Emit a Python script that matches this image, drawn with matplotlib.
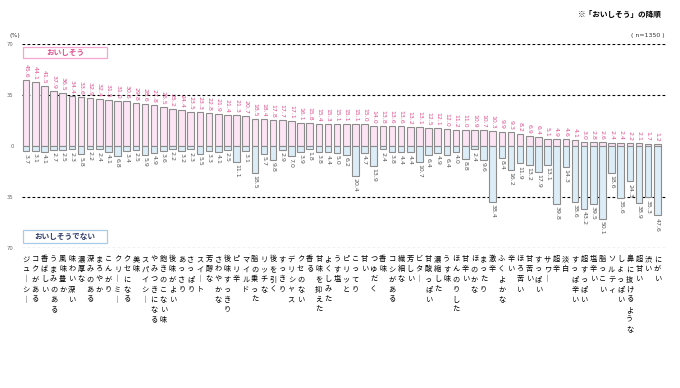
import numpy as np
import matplotlib
matplotlib.use("Agg")
import matplotlib.pyplot as plt
from matplotlib.patches import Rectangle

plt.rcParams['font.family'] = ['Noto Sans CJK JP', 'DejaVu Sans']

# words, sorted by "おいしそう" share
words = ["ジューシー", "コクがある", "香ばしい", "うまみのある", "風味豊か", "味わい深い",
         "濃厚な", "深みのある", "まろやか", "こんがり", "クリーミー", "クセになる", "美味",
         "スパイシー", "やみつきになる", "飽きのこない味", "後味がよい", "あっさり", "さっぱり",
         "スイート", "芳醇な", "さわやかな", "後味すっきり", "ピリ辛", "マイルド", "脂の乗った",
         "リッチな", "後を引く", "すっきり", "デリシャス", "クセのない", "香る", "甘味を抑えた",
         "よくしみた", "うす塩", "ピリッと", "こってり", "甘い", "つゆだく", "香味", "コシがある",
         "繊細な", "芳しい", "ビター", "甘酸っぱい", "濃縮した", "うす味", "ほんのりした", "甘辛い",
         "ほのかな", "まったり", "激辛", "ふくよかな", "辛い", "ほろ苦い", "甘苦い", "すっぱい",
         "サワー", "超辛", "淡白", "すっぱ辛い", "超すっぱい", "塩辛い", "脂っこい", "ソルティ",
         "しょっぱい", "鼻に抜けるような", "超甘い", "渋い", "にがい"]

# % "おいしそう"
good = [45.6, 44.1, 41.5, 37.9, 36.5, 34.4, 33.6, 32.9, 32.4, 31.5,
        31.0, 30.6, 29.8, 28.6, 27.8, 26.5, 25.2, 24.4, 23.5, 23.3,
        22.8, 21.9, 21.4, 21.3, 20.7, 18.5, 18.4, 17.8, 17.7, 17.1,
        16.1, 15.8, 15.4, 15.3, 15.1, 15.1, 15.1, 15.0, 14.0, 13.8,
        13.6, 13.6, 13.2, 13.1, 12.5, 12.1, 12.0, 11.2, 11.0, 10.9,
        10.7, 10.3, 9.9, 9.3, 8.2, 6.9, 6.4, 5.1, 4.9, 4.6,
        4.1, 3.0, 2.8, 2.6, 2.4, 2.4, 2.2, 2.1, 1.7, 1.2]

# % "おいしそうでない"
bad = [3.7, 3.1, 4.1, 2.7, 2.5, 2.3, 5.8, 2.2, 2.4, 4.1,
       6.8, 3.4, 2.5, 5.9, 4.9, 3.6, 2.2, 3.2, 2.3, 5.5,
       3.3, 4.1, 2.5, 11.1, 3.1, 18.5, 5.7, 9.8, 2.9, 7.0,
       3.9, 1.8, 3.8, 4.4, 5.0, 6.2, 20.4, 4.7, 13.9, 2.4,
       3.8, 4.4, 4.4, 10.7, 6.4, 4.9, 6.4, 4.0, 8.8, 2.4,
       9.6, 38.4, 8.4, 16.2, 11.9, 13.2, 17.9, 13.1, 39.8, 14.3,
       38.6, 43.2, 39.5, 50.1, 18.6, 35.6, 24.3, 38.9, 35.3, 47.6]

yticks = [70, 35, 0, -35, -70]
ytick_labels = ["70", "35", "0", "35", "70"]

W, H = 680, 388
fig = plt.figure(figsize=(W / 100, H / 100), dpi=100)
# axes placed in pixels: left 22, right 666, top 44, bottom 248
ax = fig.add_axes([22 / W, (H - 248) / H, 644 / W, 204 / H])

x = np.arange(len(words))
pink_fill = "#fce4f4"
blue_fill = "#dcedf8"
edge = "#8c8c8c"

for yv in [70, 35, -35, -70]:
    ax.axhline(yv, color="black", lw=0.8, ls=(0, (2.5, 2)), zorder=1)

ax.bar(x, good, width=0.72, color=pink_fill, edgecolor=edge, lw=0.8, zorder=2)
ax.bar(x, [-v for v in bad], width=0.72, color=blue_fill, edgecolor=edge, lw=0.8, zorder=2)

for xi, g, b in zip(x, good, bad):
    ax.text(xi, g + 1.5, f"{g:.1f}", rotation=270, ha="center", va="bottom",
            fontsize=4.5, color="#e0508e", family="DejaVu Sans")
    ax.text(xi, -b - 1.5, f"{b:.1f}", rotation=270, ha="center", va="top",
            fontsize=4.5, color="#555555", family="DejaVu Sans")

# vertical category labels
for xi, w in zip(x, words):
    txt = "\n".join(w.replace("ー", "｜"))
    ax.text(xi, -75, txt, ha="center", va="top", fontsize=5.2, linespacing=1.35,
            color="black", clip_on=False)

ax.set_xlim(-0.45, 69.95)
ax.set_ylim(-70, 70)
ax.set_xticks([])
ax.set_yticks(yticks)
ax.set_yticklabels(ytick_labels, fontsize=3.8, color="#666666", family="DejaVu Sans")
ax.tick_params(axis="y", length=0, pad=6)
for s in ax.spines.values():
    s.set_visible(False)

# legend boxes
def box(x0, y0, w, h, ec, label, tc):
    fig.patches.append(Rectangle((x0 / W, 1 - (y0 + h) / H), w / W, h / H,
                                 transform=fig.transFigure, facecolor="white",
                                 edgecolor=ec, lw=0.9, zorder=5))
    fig.text((x0 + w / 2) / W, 1 - (y0 + h / 2) / H, label, ha="center", va="center",
             fontsize=5.5, fontweight="bold", color=tc, zorder=6)

box(23, 47, 84, 11, "#f3a7cf", "おいしそう", "#e0508e")
box(23, 230, 84, 13, "#a9cbe6", "おいしそうでない", "#2d3a66")

fig.text(10 / W, 1 - 36 / H, "(%)", fontsize=4.5, ha="left", va="center",
         family="DejaVu Sans", color="#333333")
fig.text(665 / W, 1 - 35 / H, "( n=1350 )", fontsize=4.5, ha="right", va="center",
         family="DejaVu Sans", color="#333333")
fig.text(662 / W, 1 - 14 / H, "※「おいしそう」の降順", fontsize=5.5, ha="right", va="center",
         color="black", fontweight="bold")

fig.savefig("out.png", dpi=100)
